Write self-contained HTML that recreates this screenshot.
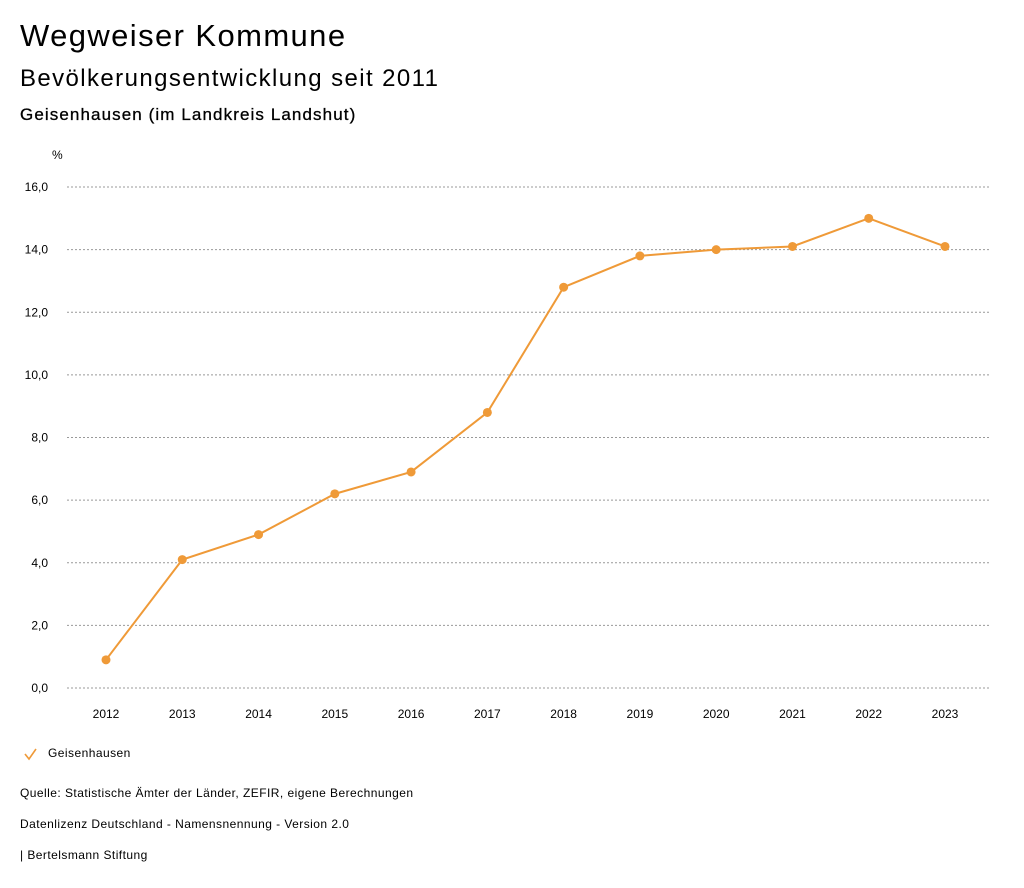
<!DOCTYPE html>
<html><head><meta charset="utf-8">
<style>
body{margin:0;background:#fff;font-family:"Liberation Sans",sans-serif;color:#000;}
#wrap{position:relative;width:1024px;height:888px;overflow:hidden;}
.t{position:absolute;white-space:nowrap;}
.s{font-size:12px;letter-spacing:0.45px;}
</style></head>
<body>
<div id="wrap">
<div class="t" style="left:20px;top:18px;font-size:31px;letter-spacing:1.4px;">Wegweiser Kommune</div>
<div class="t" style="left:20px;top:65px;font-size:24px;letter-spacing:1.4px;">Bevölkerungsentwicklung seit 2011</div>
<div class="t" style="left:20px;top:105px;font-size:17px;letter-spacing:1.1px;-webkit-text-stroke:0.3px #000;">Geisenhausen (im Landkreis Landshut)</div>
<svg id="chart" width="1024" height="888" style="position:absolute;left:0;top:0"></svg>
<div class="t s" style="left:48px;top:746px;">Geisenhausen</div>
<div class="t s" style="left:20px;top:786px;">Quelle: Statistische Ämter der Länder, ZEFIR, eigene Berechnungen</div>
<div class="t s" style="left:20px;top:817px;">Datenlizenz Deutschland - Namensnennung - Version 2.0</div>
<div class="t s" style="left:20px;top:848px;">| Bertelsmann Stiftung</div>
</div>
<script>
const years=["2012","2013","2014","2015","2016","2017","2018","2019","2020","2021","2022","2023"];
const values=[0.9,4.1,4.9,6.2,6.9,8.8,12.8,13.8,14.0,14.1,15.0,14.1];
const yTicks=[0,2,4,6,8,10,12,14,16];
const NS="http://www.w3.org/2000/svg";
const svg=document.getElementById('chart');
function x(i){return 106+i*(945-106)/(years.length-1);}
function y(v){return 688-v*(688-187)/16;}
function mk(t,a){const e=document.createElementNS(NS,t);for(const k in a)e.setAttribute(k,a[k]);svg.appendChild(e);return e;}
let u=mk('text',{x:52,y:159,'font-size':12,'font-family':'Liberation Sans'});u.textContent='%';


yTicks.forEach(v=>{
 const l=mk('line',{x1:67,x2:990,y1:y(v),y2:y(v),stroke:'#999','stroke-dasharray':'2,2','stroke-width':1});
 
 
 const t=mk('text',{x:48,y:y(v)+4,'text-anchor':'end','font-size':12,'font-family':'Liberation Sans'});
 t.textContent=v.toFixed(1).replace('.',',');
 
 
});
years.forEach((yr,i)=>{
 const t=mk('text',{x:x(i),y:718,'text-anchor':'middle','font-size':12,'font-family':'Liberation Sans'});
 t.textContent=yr;
 
 
});
const p=mk('polyline',{points:values.map((v,i)=>x(i)+','+y(v)).join(' '),fill:'none',stroke:'#ef9a38','stroke-width':2});


values.forEach((v,i)=>{
 const c=mk('circle',{cx:x(i),cy:y(v),r:4.5,fill:'#ef9a38'});
 
 
});
const chk=mk('polyline',{points:'25,754 29,759 36,749',fill:'none',stroke:'#ef9a38','stroke-width':1.6});


</script>
</body></html>
